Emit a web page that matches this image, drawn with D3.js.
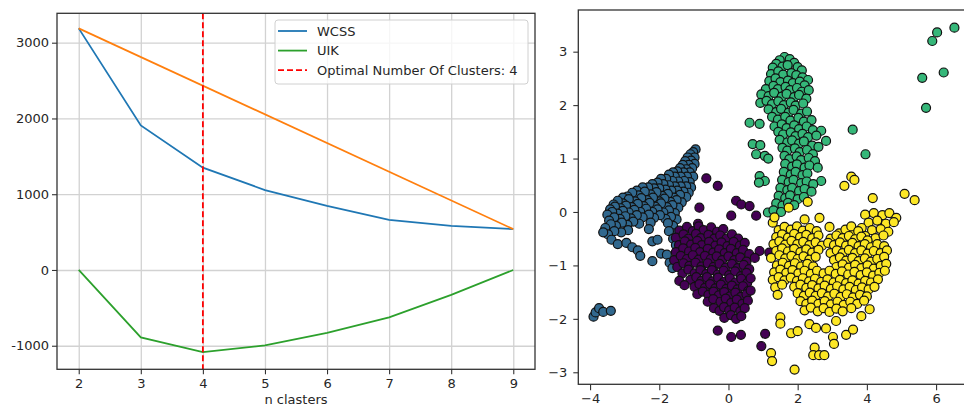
<!DOCTYPE html>
<html>
<head>
<meta charset="utf-8">
<script src="https://cdn.jsdelivr.net/npm/d3@7"></script>
<style>
  html, body { margin: 0; padding: 0; background: #fff; }
  svg { display: block; font-family: "DejaVu Sans", sans-serif; }
</style>
</head>
<body>
<div id="chart"></div>
<script>
// ---- elbow panel ----
const nClusters = [2, 3, 4, 5, 6, 7, 8, 9];
const wcss = [3189, 1908, 1351, 1055, 846, 662, 583, 539];
const uik = [0, -890, -1083, -995, -829, -626, -329, 0];
const chordK = [2, 9];
const chordValue = [3189, 539];
const optimalK = 4;
const elbowTicksY = [-1000, 0, 1000, 2000, 3000];

// ---- scatter panel, one list per cluster label ----
// label 0 (purple)
const cluster0 = [
  [-0.64,0.63],[-0.31,0.49],[-0.84,0.08],[-0.88,-0.22],[0.22,0.21],[0.37,0.14],[0.61,0.11],[0.8,-0.07],[0.08,-0.07],
  [-1.42,-0.35],[-1.2,-0.28],[-1.03,-0.36],[-0.86,-0.27],[-0.72,-0.34],[-0.5,-0.29],[-0.33,-0.37],[-0.15,-0.32],
  [-1.52,-0.48],[-1.3,-0.42],[-1.16,-0.5],[-0.94,-0.41],[-0.8,-0.49],[-0.58,-0.43],[-0.41,-0.5],[-0.24,-0.44],[-0.06,-0.5],[0.1,-0.42],[0.28,-0.5],
  [-1.43,-0.62],[-1.26,-0.55],[-1.08,-0.61],[-0.9,-0.54],[-0.77,-0.62],[-0.56,-0.56],[-0.38,-0.63],[-0.2,-0.57],[-0.03,-0.64],[0.15,-0.56],[0.33,-0.63],[0.47,-0.58],
  [-1.52,-0.75],[-1.31,-0.68],[-1.14,-0.74],[-0.96,-0.67],[-0.82,-0.75],[-0.6,-0.69],[-0.44,-0.76],[-0.27,-0.7],[-0.11,-0.77],[0.07,-0.69],[0.24,-0.77],[0.42,-0.71],[0.6,-0.79],[0.9,-0.73],[1.18,-0.76],
  [-1.57,-0.9],[-1.38,-0.82],[-1.2,-0.88],[-1.03,-0.81],[-0.86,-0.89],[-0.68,-0.82],[-0.51,-0.88],[-0.34,-0.83],[-0.18,-0.9],[0.0,-0.83],[0.17,-0.9],[0.34,-0.85],[0.52,-0.93],[0.76,-0.86],
  [-1.48,-1.03],[-1.3,-0.96],[-1.13,-1.01],[-0.95,-0.95],[-0.78,-1.02],[-0.6,-0.96],[-0.43,-1.03],[-0.26,-0.97],[-0.08,-1.04],[0.1,-0.97],[0.27,-1.05],[0.44,-0.99],[0.6,-1.07],
  [-1.33,-1.15],[-1.16,-1.08],[-0.98,-1.15],[-0.81,-1.09],[-0.64,-1.16],[-0.48,-1.09],[-0.31,-1.17],[-0.14,-1.1],[0.02,-1.18],[0.19,-1.11],[0.36,-1.2],[0.52,-1.14],
  [-1.1,-1.27],[-0.93,-1.22],[-0.78,-1.29],[-0.62,-1.22],[-0.46,-1.3],[-0.3,-1.23],[-0.13,-1.31],[0.04,-1.24],[0.2,-1.32],[0.37,-1.25],[0.54,-1.33],[0.64,-1.24],
  [-1.42,-1.29],[-1.27,-1.37],[-0.98,-1.4],[-0.84,-1.35],[-0.68,-1.42],[-0.53,-1.35],[-0.38,-1.43],[-0.22,-1.36],[-0.06,-1.44],[0.1,-1.38],[0.26,-1.45],[0.42,-1.39],[0.57,-1.48],
  [-0.9,-1.54],[-0.74,-1.49],[-0.58,-1.55],[-0.43,-1.49],[-0.28,-1.56],[-0.12,-1.5],[0.04,-1.58],[0.2,-1.51],[0.36,-1.59],[0.52,-1.54],[0.64,-1.47],
  [-0.6,-1.68],[-0.44,-1.63],[-0.23,-1.68],[-0.08,-1.62],[0.08,-1.7],[0.24,-1.64],[0.4,-1.72],[0.56,-1.66],
  [-0.42,-1.8],[-0.26,-1.85],[-0.13,-1.78],[0.02,-1.84],[0.18,-1.79],[0.34,-1.86],[0.47,-1.8],
  [-0.12,-1.98],[0.07,-1.93],[0.22,-2.0],[0.37,-1.95],
  [-0.31,-2.22],[0.08,-2.34],[0.36,-2.3],[1.06,-2.28],[0.95,-2.51]
];
// label 1 (blue)
const cluster1 = [
  [-0.95,1.17],[-1.02,1.12],[-1.1,1.08],[-0.98,1.02],[-1.18,1.02],[-1.08,0.96],[-1.25,0.95],[-0.98,0.9],[-1.15,0.88],[-1.32,0.88],
  [-1.05,0.82],[-1.22,0.8],[-1.4,0.82],[-1.12,0.74],[-1.3,0.74],[-1.48,0.76],[-1.6,0.74],[-1.02,0.66],[-1.2,0.66],[-1.38,0.66],[-1.55,0.66],[-1.72,0.7],
  [-1.12,0.56],[-1.28,0.58],[-1.45,0.57],[-1.62,0.58],[-1.8,0.62],[-1.95,0.62],[-1.08,0.46],[-1.22,0.48],[-1.38,0.48],[-1.55,0.48],[-1.72,0.5],[-1.88,0.52],[-2.05,0.55],[-2.2,0.52],
  [-1.15,0.36],[-1.3,0.38],[-1.48,0.4],[-1.65,0.4],[-1.82,0.42],[-2.0,0.44],[-2.15,0.44],[-2.32,0.46],[-2.48,0.46],[-2.65,0.4],
  [-1.22,0.28],[-1.4,0.32],[-1.58,0.27],[-1.75,0.34],[-1.92,0.3],[-2.08,0.37],[-2.25,0.33],[-2.42,0.38],[-2.6,0.31],[-2.78,0.36],[-2.92,0.29],[-3.05,0.27],
  [-1.35,0.18],[-1.5,0.22],[-1.68,0.19],[-1.85,0.25],[-2.0,0.2],[-2.18,0.27],[-2.35,0.22],[-2.52,0.26],[-2.7,0.2],[-2.88,0.24],[-3.05,0.16],[-3.2,0.21],[-3.32,0.14],
  [-1.45,0.08],[-1.62,0.13],[-1.78,0.09],[-1.95,0.16],[-2.12,0.1],[-2.28,0.17],[-2.45,0.11],[-2.62,0.15],[-2.8,0.09],[-2.96,0.12],[-3.12,0.07],[-3.28,0.1],[-3.42,0.05],
  [-1.55,-0.02],[-1.72,0.03],[-1.88,-0.01],[-2.05,0.05],[-2.2,0.0],[-2.38,0.06],[-2.55,0.0],[-2.72,0.04],[-2.88,-0.01],[-3.05,0.02],[-3.2,-0.03],[-3.36,0.0],[-3.5,-0.05],
  [-1.5,-0.14],[-1.66,-0.09],[-1.82,-0.13],[-1.98,-0.06],[-2.15,-0.11],[-2.3,-0.05],[-2.48,-0.1],[-2.65,-0.06],[-2.82,-0.12],[-2.98,-0.08],[-3.14,-0.13],[-3.3,-0.1],[-3.45,-0.16],
  [-1.6,-0.26],[-1.75,-0.21],[-2.25,-0.2],[-2.58,-0.22],[-2.75,-0.18],[-2.92,-0.24],[-3.08,-0.2],[-3.25,-0.26],[-3.4,-0.23],[-3.56,-0.3],
  [-1.58,-0.4],[-1.72,-0.36],[-2.3,-0.32],[-2.9,-0.34],[-3.1,-0.38],[-3.3,-0.36],[-3.48,-0.42],[-3.62,-0.38],
  [-3.38,-0.52],[-3.2,-0.6],[-2.95,-0.58],[-2.78,-0.66],[-2.62,-0.72],[-2.55,-0.82],[-2.2,-0.55],[-2.05,-0.52],[-2.2,-0.92],
  [-1.95,-0.78],[-1.78,-0.8],[-1.6,-0.5],[-1.52,-0.62],[-1.42,-0.72],[-1.7,-0.95],[-1.62,-1.05],
  [-3.9,-1.96],[-3.84,-1.88],[-3.74,-1.8],[-3.62,-1.87],[-3.4,-1.85]
];
// label 2 (green)
const cluster2 = [
  [1.62,2.9],[1.48,2.84],[1.77,2.86],[1.38,2.77],[1.9,2.79],[1.28,2.7],[1.56,2.72],[1.71,2.75],[2.0,2.71],[2.12,2.65],
  [1.23,2.58],[1.44,2.63],[1.58,2.57],[1.82,2.6],[1.96,2.56],[2.14,2.52],[2.3,2.47],
  [1.18,2.45],[1.36,2.5],[1.5,2.43],[1.72,2.46],[1.86,2.41],[2.06,2.44],[2.2,2.37],
  [1.08,2.3],[1.3,2.36],[1.43,2.3],[1.65,2.34],[1.78,2.28],[1.98,2.32],[2.12,2.25],[2.32,2.28],
  [0.95,2.2],[1.16,2.17],[1.32,2.23],[1.54,2.16],[1.68,2.21],[1.9,2.15],[2.04,2.19],[2.25,2.12],
  [0.92,2.04],[1.1,2.08],[1.26,2.02],[1.44,2.07],[1.6,2.0],[1.8,2.05],[1.94,1.99],[2.16,2.03],
  [1.16,1.92],[1.38,1.87],[1.52,1.93],[1.74,1.86],[1.88,1.91],[2.1,1.84],[2.27,1.88],
  [0.61,1.67],[0.9,1.65],[1.26,1.78],[1.43,1.73],[1.64,1.78],[1.79,1.71],[2.02,1.76],[2.18,1.69],[2.4,1.72],
  [1.33,1.6],[1.54,1.64],[1.68,1.57],[1.9,1.62],[2.04,1.55],[2.26,1.6],[2.44,1.53],[2.68,1.52],
  [1.44,1.5],[1.58,1.45],[1.8,1.49],[1.94,1.42],[2.14,1.46],[2.3,1.4],[2.54,1.43],[2.82,1.33],
  [0.7,1.27],[0.92,1.25],[1.48,1.35],[1.7,1.3],[1.84,1.34],[2.04,1.28],[2.18,1.32],[2.42,1.24],[2.6,1.22],
  [0.8,1.08],[1.05,1.05],[1.56,1.2],[1.7,1.15],[1.92,1.19],[2.06,1.12],[2.27,1.16],[2.44,1.08],
  [1.15,1.0],[1.62,1.05],[1.76,0.99],[1.97,1.04],[2.1,0.97],[2.32,1.01],[2.5,0.95],
  [1.64,0.9],[1.84,0.85],[1.98,0.89],[2.2,0.83],[2.34,0.87],[2.58,0.83],
  [0.9,0.67],[1.05,0.58],[0.88,0.55],[1.6,0.75],[1.8,0.7],[1.94,0.75],[2.14,0.69],[2.28,0.72],[2.68,0.58],
  [1.55,0.6],[1.74,0.56],[1.88,0.6],[2.1,0.54],[2.26,0.57],[2.45,0.52],
  [1.5,0.45],[1.7,0.41],[1.84,0.45],[2.04,0.39],[2.2,0.43],[2.4,0.38],
  [1.45,0.3],[1.64,0.26],[1.78,0.31],[2.0,0.24],[2.18,0.28],
  [1.38,0.16],[1.56,0.12],[1.72,0.17],[1.9,0.13],
  [1.14,-0.01],[1.3,0.03],[1.52,0.0],
  [6.53,3.45],[6.03,3.36],[5.89,3.2],[6.22,2.61],[5.6,2.51],[5.71,1.95],[3.59,1.54],[3.96,1.08]
];
// label 3 (yellow)
const cluster3 = [
  [3.55,0.66],[3.64,0.6],[3.35,0.49],[4.17,0.26],[5.09,0.34],[5.38,0.22],[2.29,0.19],[1.74,0.08],
  [2.2,-0.14],[2.63,-0.11],[2.92,-0.28],[1.28,-0.2],[1.33,-0.1],
  [3.95,-0.05],[4.2,-0.02],[4.45,-0.06],[4.65,-0.02],[4.85,-0.11],[4.05,-0.2],[4.3,-0.16],[4.55,-0.22],[4.78,-0.19],
  [3.85,-0.3],[4.15,-0.34],[4.4,-0.32],[4.62,-0.37],[3.6,-0.36],[3.95,-0.45],[4.25,-0.49],[4.48,-0.44],
  [1.45,-0.34],[1.62,-0.28],[1.8,-0.33],[1.98,-0.27],[2.15,-0.35],[2.35,-0.3],[2.55,-0.36],[3.2,-0.4],[3.38,-0.33],[3.55,-0.27],[3.75,-0.36],
  [1.38,-0.47],[1.55,-0.42],[1.72,-0.48],[1.9,-0.41],[2.07,-0.47],[2.25,-0.43],[2.42,-0.49],[2.6,-0.44],[2.95,-0.5],[3.12,-0.44],[3.3,-0.49],[3.48,-0.45],[3.66,-0.51],[3.84,-0.46],[4.02,-0.53],
  [1.3,-0.6],[1.47,-0.55],[1.64,-0.61],[1.82,-0.54],[1.99,-0.6],[2.16,-0.56],[2.34,-0.62],[2.52,-0.57],[2.7,-0.63],[2.88,-0.58],[3.05,-0.62],[3.22,-0.57],[3.4,-0.63],[3.58,-0.58],[3.76,-0.64],[3.94,-0.6],[4.12,-0.66],[4.3,-0.6],[4.5,-0.64],
  [1.38,-0.73],[1.55,-0.68],[1.72,-0.74],[1.9,-0.69],[2.08,-0.75],[2.25,-0.7],[2.42,-0.76],[2.6,-0.71],[2.95,-0.77],[3.13,-0.72],[3.3,-0.77],[3.48,-0.71],[3.66,-0.77],[3.84,-0.72],[4.02,-0.78],[4.2,-0.73],[4.4,-0.77],[4.58,-0.72],
  [1.23,-0.86],[1.47,-0.81],[1.64,-0.87],[1.82,-0.82],[2.0,-0.88],[2.17,-0.83],[2.34,-0.89],[2.52,-0.84],[3.05,-0.9],[3.22,-0.85],[3.4,-0.91],[3.58,-0.86],[3.76,-0.92],[3.94,-0.87],[4.12,-0.93],[4.3,-0.88],[4.5,-0.84],
  [1.4,-1.0],[1.57,-0.95],[1.75,-1.01],[1.92,-0.96],[2.1,-1.02],[2.28,-0.97],[2.45,-1.02],[3.12,-1.03],[3.3,-0.98],[3.48,-1.04],[3.66,-0.99],[3.84,-1.05],[4.02,-1.0],[4.2,-1.06],[4.4,-1.01],[4.56,-0.97],
  [1.32,-1.13],[1.5,-1.08],[1.67,-1.14],[1.85,-1.09],[2.02,-1.15],[2.2,-1.1],[2.38,-1.16],[2.56,-1.1],[2.75,-1.15],[2.92,-1.1],[3.1,-1.16],[3.28,-1.11],[3.46,-1.17],[3.64,-1.12],[3.82,-1.18],[4.0,-1.13],[4.18,-1.19],[4.36,-1.14],[4.52,-1.1],
  [1.28,-1.27],[1.45,-1.22],[1.62,-1.28],[1.8,-1.23],[1.98,-1.29],[2.15,-1.24],[2.33,-1.3],[2.5,-1.25],[2.68,-1.31],[2.86,-1.26],[3.04,-1.32],[3.22,-1.27],[3.4,-1.33],[3.58,-1.28],[3.76,-1.34],[3.95,-1.29],[4.12,-1.32],[4.32,-1.26],
  [1.35,-1.41],[1.55,-1.36],[1.9,-1.4],[2.08,-1.36],[2.25,-1.42],[2.42,-1.37],[2.6,-1.43],[2.78,-1.38],[2.96,-1.44],[3.14,-1.39],[3.32,-1.45],[3.5,-1.4],[3.68,-1.46],[3.86,-1.41],[4.05,-1.45],[4.22,-1.4],
  [1.42,-1.55],[2.0,-1.52],[2.18,-1.57],[2.35,-1.51],[2.52,-1.57],[2.7,-1.52],[2.88,-1.58],[3.06,-1.53],[3.24,-1.59],[3.42,-1.54],[3.6,-1.6],[3.8,-1.55],[4.0,-1.58],
  [2.08,-1.67],[2.25,-1.72],[2.42,-1.66],[2.6,-1.72],[2.78,-1.67],[2.96,-1.73],[3.15,-1.68],[3.33,-1.74],[3.52,-1.68],[3.72,-1.72],[3.92,-1.66],
  [2.2,-1.84],[2.38,-1.79],[2.58,-1.86],[2.75,-1.8],[2.92,-1.87],[3.12,-1.81],[3.3,-1.86],[3.55,-1.8],[4.08,-1.82],
  [1.5,-1.97],[1.5,-2.09],[1.81,-2.27],[2.0,-2.23],[2.34,-2.1],[2.53,-2.17],[2.82,-2.18],[3.11,-2.04],[3.02,-2.34],[3.05,-2.47],
  [3.4,-2.3],[3.6,-2.2],[2.49,-2.54],[2.45,-2.68],[2.62,-2.68],[2.77,-2.68],[1.23,-2.64],[1.26,-2.79],[1.91,-2.95],[3.84,-1.95]
];
const scatterTicksX = [-4, -2, 0, 2, 4, 6];
const scatterTicksY = [-3, -2, -1, 0, 1, 2, 3];

const width = 964, height = 407;
const ink = "#262626", spineColor = "#333", gridColor = "#d2d2d2";
const fontSize = 13;

const svg = d3.select("#chart")
  .append("svg")
  .attr("width", width)
  .attr("height", height);

// ---------- left: elbow chart ----------
const L = { left: 57, right: 535, top: 13.3, bottom: 369.3 };
const x = d3.scaleLinear().domain([1.65, 9.35]).range([L.left, L.right]);
const y = d3.scaleLinear().domain([-1311, 3388]).range([L.bottom, L.top]);
const left = svg.append("g");

// grid
left.append("g")
  .attr("transform", `translate(0,${L.bottom})`)
  .call(d3.axisBottom(x).tickValues(nClusters).tickSize(-(L.bottom - L.top)).tickFormat(""))
  .call(g => g.select(".domain").remove())
  .call(g => g.selectAll("line").attr("stroke", gridColor).attr("stroke-width", 1.3));
left.append("g")
  .attr("transform", `translate(${L.left},0)`)
  .call(d3.axisLeft(y).tickValues(elbowTicksY).tickSize(-(L.right - L.left)).tickFormat(""))
  .call(g => g.select(".domain").remove())
  .call(g => g.selectAll("line").attr("stroke", gridColor).attr("stroke-width", 1.3));

const line = d3.line().x(d => x(d[0])).y(d => y(d[1]));

left.append("path")
  .attr("d", line(d3.zip(nClusters, wcss)))
  .attr("fill", "none").attr("stroke", "#1f77b4").attr("stroke-width", 1.8);
left.append("path")
  .attr("d", line(d3.zip(nClusters, uik)))
  .attr("fill", "none").attr("stroke", "#2ca02c").attr("stroke-width", 1.8);
left.append("path")
  .attr("d", line(d3.zip(chordK, chordValue)))
  .attr("fill", "none").attr("stroke", "#ff7f0e").attr("stroke-width", 1.8);
left.append("line")
  .attr("x1", x(optimalK)).attr("x2", x(optimalK))
  .attr("y1", L.top).attr("y2", L.bottom)
  .attr("stroke", "#ff0000").attr("stroke-width", 1.8)
  .attr("stroke-dasharray", "6,3");

// axes
const styleAxis = g => {
  g.select(".domain").remove();
  g.selectAll(".tick line").attr("stroke", spineColor).attr("stroke-width", 1.1);
  g.selectAll(".tick text").attr("fill", ink).attr("font-size", fontSize)
    .attr("font-family", "DejaVu Sans, sans-serif");
};
left.append("g")
  .attr("transform", `translate(0,${L.bottom})`)
  .call(d3.axisBottom(x).tickValues(nClusters).tickSize(5).tickPadding(4))
  .call(styleAxis);
left.append("g")
  .attr("transform", `translate(${L.left},0)`)
  .call(d3.axisLeft(y).tickValues(elbowTicksY).tickFormat(d => String(d)).tickSize(5).tickPadding(3))
  .call(styleAxis);

left.append("rect")
  .attr("x", L.left).attr("y", L.top)
  .attr("width", L.right - L.left).attr("height", L.bottom - L.top)
  .attr("fill", "none").attr("stroke", spineColor).attr("stroke-width", 1.3);

left.append("text")
  .attr("x", (L.left + L.right) / 2).attr("y", 404)
  .attr("text-anchor", "middle")
  .attr("font-size", fontSize).attr("fill", ink)
  .text("n clasters");

// legend
const legendItems = [
  { label: "WCSS", color: "#1f77b4", dash: null },
  { label: "UIK", color: "#2ca02c", dash: null },
  { label: "Optimal Number Of Clusters: 4", color: "#ff0000", dash: "6,3" }
];
const legend = left.append("g").attr("transform", "translate(275,20)");
legend.append("rect")
  .attr("width", 253).attr("height", 64).attr("rx", 3)
  .attr("fill", "#fff").attr("fill-opacity", 0.8)
  .attr("stroke", "#d0d0d0").attr("stroke-width", 1);
const li = legend.selectAll("g.item").data(legendItems).join("g")
  .attr("class", "item")
  .attr("transform", (d, i) => `translate(0,${11 + i * 19.6})`);
li.append("line")
  .attr("x1", 3).attr("x2", 32)
  .attr("stroke", d => d.color).attr("stroke-width", 1.8)
  .attr("stroke-dasharray", d => d.dash);
li.append("text")
  .attr("x", 42).attr("dy", "0.36em")
  .attr("font-size", fontSize).attr("fill", ink)
  .text(d => d.label);

// ---------- right: cluster scatter ----------
const R = { left: 578.3, right: 977.6, top: 10, bottom: 384.3 };
const sx = d3.scaleLinear().domain([-4.34, 7.2]).range([R.left, R.right]);
const sy = d3.scaleLinear().domain([-3.225, 3.78]).range([R.bottom, R.top]);
const color = d3.scaleSequential(d3.interpolateViridis).domain([0, 3]);
const right = svg.append("g");

const labelled = [
  ...cluster1.map(p => ({ p, k: 1 })),
  ...cluster0.map(p => ({ p, k: 0 })),
  ...cluster2.map(p => ({ p, k: 2 })),
  ...cluster3.map(p => ({ p, k: 3 }))
];
right.append("g").selectAll("circle").data(labelled).join("circle")
  .attr("cx", d => sx(d.p[0]))
  .attr("cy", d => sy(d.p[1]))
  .attr("r", 4.5)
  .attr("fill", d => color(d.k))
  .attr("stroke", "#111")
  .attr("stroke-width", 1.2);

right.append("g")
  .attr("transform", `translate(0,${R.bottom})`)
  .call(d3.axisBottom(sx).tickValues(scatterTicksX).tickFormat(d3.format("d")).tickSize(6).tickPadding(3))
  .call(styleAxis);
right.append("g")
  .attr("transform", `translate(${R.left},0)`)
  .call(d3.axisLeft(sy).tickValues(scatterTicksY).tickFormat(d3.format("d")).tickSize(5).tickPadding(6))
  .call(styleAxis);

right.append("rect")
  .attr("x", R.left).attr("y", R.top)
  .attr("width", R.right - R.left).attr("height", R.bottom - R.top)
  .attr("fill", "none").attr("stroke", spineColor).attr("stroke-width", 1.3);
</script>
</body>
</html>
